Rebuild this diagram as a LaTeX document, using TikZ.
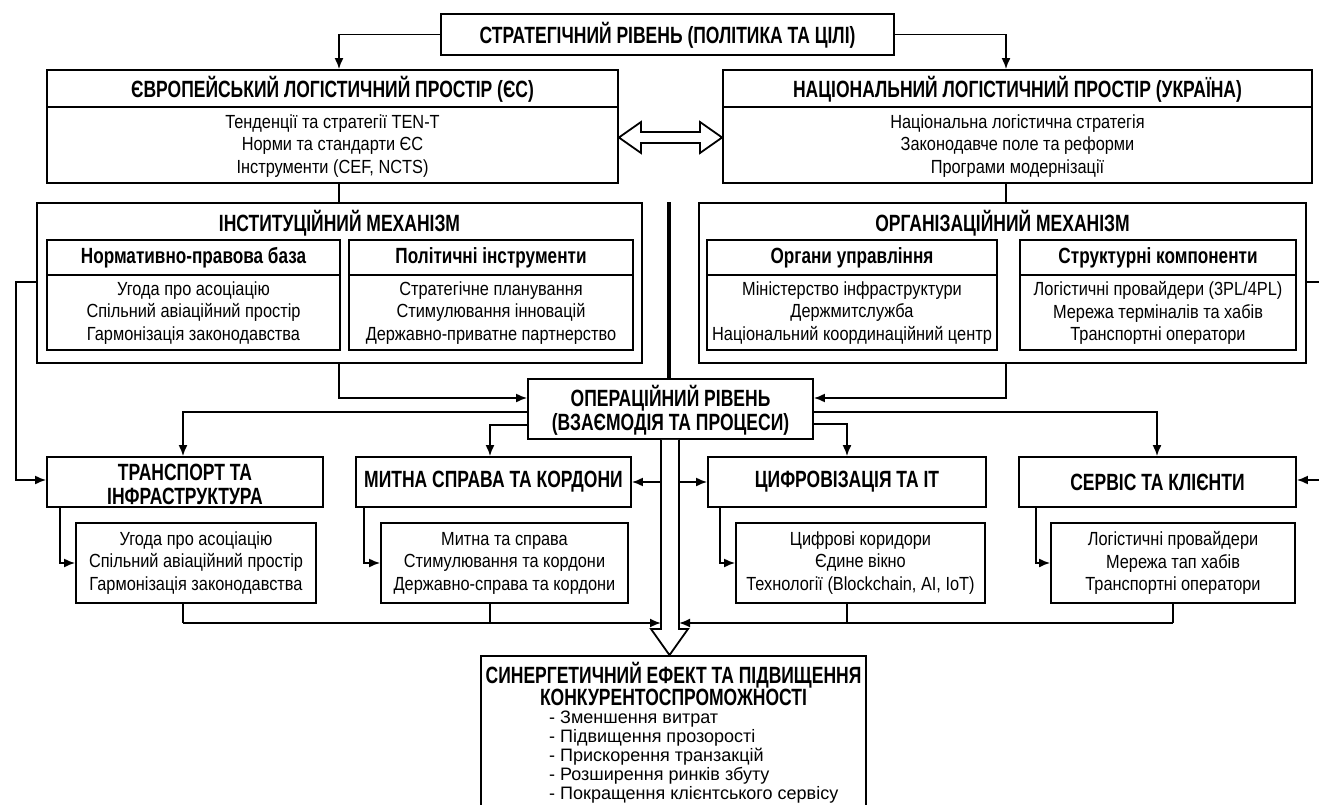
\documentclass[tikz,border=0pt]{standalone}
\usepackage{fontspec}
\setmainfont{Liberation Sans}
\newfontfamily\hdfont{Liberation Sans}[FakeStretch=0.745]
\newfontfamily\shfont{Liberation Sans}[FakeStretch=0.78]
\newfontfamily\bdfont{Liberation Sans}[FakeStretch=0.86]
\usetikzlibrary{arrows.meta,fit}
\begin{document}
\begin{tikzpicture}[x=1pt,y=-1pt,
  box/.style={draw, line width=1.8pt, inner sep=0pt},
  hd/.style={font=\hdfont\fontsize{23.5}{24}\selectfont\bfseries, align=center, inner sep=0pt},
  sh/.style={font=\shfont\fontsize{22}{23}\selectfont\bfseries, align=center, inner sep=0pt},
  bd/.style={font=\bdfont\fontsize{19}{22.5}\selectfont, align=center, inner sep=0pt},
  ls/.style={font=\fontsize{18}{19}\selectfont, align=left, inner sep=0pt, anchor=west},
  ln/.style={line width=1.8pt},
  arr/.style={line width=1.8pt, -{Latex[length=11pt,width=9pt]}},
]
\useasboundingbox[fill=white] (0,0) rectangle (1319,805);

% ---------- boxes ----------
\node[box, fit={(441,14) (894,55)}] (top) {};
\node[box, fit={(47,70) (618,183)}] (eu) {};
\node[box, fit={(723,70) (1312,183)}] (nat) {};
\node[box, fit={(37,203) (642,363)}] (inst) {};
\node[box, fit={(47,240) (340,350)}] (sa) {};
\node[box, fit={(349,240) (633,350)}] (sb) {};
\node[box, fit={(699,203) (1306,363)}] (org) {};
\node[box, fit={(707,240) (997,350)}] (sc) {};
\node[box, fit={(1020,240) (1296,350)}] (sd) {};
\node[box, fit={(528,379) (813,439)}] (op) {};
\node[box, fit={(47,457) (323,507)}] (tr) {};
\node[box, fit={(76,523) (316,603)}] (trs) {};
\node[box, fit={(356,457) (631,507)}] (mit) {};
\node[box, fit={(381,523) (628,603)}] (mits) {};
\node[box, fit={(708,457) (986,507)}] (cif) {};
\node[box, fit={(736,523) (985,603)}] (cifs) {};
\node[box, fit={(1019,457) (1296,507)}] (ser) {};
\node[box, fit={(1051,523) (1295,603)}] (sers) {};
\node[box, fit={(481,656) (866,815)}] (syn) {};

% dividers
\draw[ln] (eu.west |- 0,107) -- (eu.east |- 0,107);
\draw[ln] (nat.west |- 0,107) -- (nat.east |- 0,107);
\foreach \b in {sa,sb,sc,sd} \draw[ln] (\b.west |- 0,275) -- (\b.east |- 0,275);

% ---------- connectors ----------
\draw[arr] (top.west) -| (eu.north -| 339,0);
\draw[arr] (top.east) -| (nat.north -| 1006,0);
\draw[ln, fill=white] (eu.east |- 0,137.5) -- (641,122) -- (641,132) -- (700,132) -- (700,122)
   -- (nat.west |- 0,137.5) -- (700,153) -- (700,143) -- (641,143) -- (641,153) -- cycle;
\draw[ln] (eu.south -| 339,0) -- (inst.north -| 339,0);
\draw[ln] (nat.south -| 1006,0) -- (org.north -| 1006,0);
\draw[line width=4pt] (op.north -| 669,0) -- (669,202);
\draw[arr] (inst.south -| 339,0) |- (op.west |- 0,398);
\draw[arr] (org.south -| 1006,0) |- (op.east |- 0,398);
\draw[arr] (inst.west |- 0,282) -- (16,282) |- (tr.west |- 0,480);
\draw[arr] (org.east |- 0,282) -- (1322,282) |- (ser.east |- 0,480);
\draw[arr] (op.west |- 0,412) -| (tr.north -| 183,0);
\draw[arr] (op.west |- 0,425) -| (mit.north -| 490,0);
\draw[arr] (op.east |- 0,412) -| (ser.north -| 1157,0);
\draw[arr] (op.east |- 0,424) -| (cif.north -| 847,0);
\draw[ln, fill=white] (op.south -| 661,0) -- (661,629) -- (651,629) -- (syn.north -| 669.5,0)
   -- (688,629) -- (679,629) -- (op.south -| 679,0);
\draw[arr] (661,0 |- mit.east) -- (mit.east);
\draw[arr] (679,0 |- cif.west) -- (cif.west);
\draw[arr] (tr.south -| 60,0) |- (trs.west |- 0,563);
\draw[arr] (mit.south -| 364,0) |- (mits.west |- 0,563);
\draw[arr] (cif.south -| 720,0) |- (cifs.west |- 0,563);
\draw[arr] (ser.south -| 1036,0) |- (sers.west |- 0,563);
\draw[ln] (trs.south -| 183,0) -- (183,623);
\draw[ln] (mits.south -| 490,0) -- (490,623);
\draw[arr] (183,623) -- (661,623);
\draw[ln] (cifs.south -| 847,0) -- (847,623);
\draw[ln] (sers.south -| 1173,0) -- (1173,623);
\draw[arr] (1173,623) -- (679,623);

% ---------- texts ----------
\node[hd] (t-top) at (667.5,35) {СТРАТЕГІЧНИЙ РІВЕНЬ (ПОЛІТИКА ТА ЦІЛІ)};
\node[hd] (t-eu) at (332.5,89) {ЄВРОПЕЙСЬКИЙ ЛОГІСТИЧНИЙ ПРОСТІР (ЄС)};
\node[bd] (b-eu) at (332.5,146) {Тенденції та стратегії TEN-T\\Норми та стандарти ЄС\\Інструменти (CEF, NCTS)};
\node[hd] (t-nat) at (1017.5,89) {НАЦІОНАЛЬНИЙ ЛОГІСТИЧНИЙ ПРОСТІР (УКРАЇНА)};
\node[bd] (b-nat) at (1017.5,146) {Національна логістична стратегія\\Законодавче поле та реформи\\Програми модернізації};
\node[hd] (t-inst) at (339.5,223) {ІНСТИТУЦІЙНИЙ МЕХАНІЗМ};
\node[sh] (t-sa) at (193.5,258) {Нормативно-правова база};
\node[bd] (b-sa) at (193.5,313) {Угода про асоціацію\\Спільний авіаційний простір\\Гармонізація законодавства};
\node[sh] (t-sb) at (491,258) {Політичні інструменти};
\node[bd] (b-sb) at (491,313) {Стратегічне планування\\Стимулювання інновацій\\Державно-приватне партнерство};
\node[hd] (t-org) at (1002.5,223) {ОРГАНІЗАЦІЙНИЙ МЕХАНІЗМ};
\node[sh] (t-sc) at (852,258) {Органи управління};
\node[bd] (b-sc) at (852,313) {Міністерство інфраструктури\\Держмитслужба\\Національний координаційний центр};
\node[sh] (t-sd) at (1158,258) {Структурні компоненти};
\node[bd] (b-sd) at (1158,313) {Логістичні провайдери (3PL/4PL)\\Мережа терміналів та хабів\\Транспортні оператори};
\node[hd] (t-op) at (670.5,410) {ОПЕРАЦІЙНИЙ РІВЕНЬ\\(ВЗАЄМОДІЯ ТА ПРОЦЕСИ)};
\node[hd] (t-tr) at (185,484) {ТРАНСПОРТ ТА\\ІНФРАСТРУКТУРА};
\node[bd] (b-tr) at (196,563) {Угода про асоціацію\\Спільний авіаційний простір\\Гармонізація законодавства};
\node[hd] (t-mit) at (493.5,482) {МИТНА СПРАВА ТА КОРДОНИ};
\node[bd] (b-mit) at (504.5,563) {Митна та справа\\Стимулювання та кордони\\Державно-справа та кордони};
\node[hd] (t-cif) at (847,482) {ЦИФРОВІЗАЦІЯ ТА ІТ};
\node[bd] (b-cif) at (860.5,563) {Цифрові коридори\\Єдине вікно\\Технології (Blockchain, AI, IoT)};
\node[hd] (t-ser) at (1157.5,482) {СЕРВІС ТА КЛІЄНТИ};
\node[bd] (b-ser) at (1173,563) {Логістичні провайдери\\Мережа тап хабів\\Транспортні оператори};
\node[hd, font=\hdfont\fontsize{23.5}{20.5}\selectfont\bfseries] (t-syn) at (673.5,684) {СИНЕРГЕТИЧНИЙ ЕФЕКТ ТА ПІДВИЩЕННЯ\\КОНКУРЕНТОСПРОМОЖНОСТІ};
\node[ls] (b-syn) at (549,757) {- Зменшення витрат\\- Підвищення прозорості\\- Прискорення транзакцій\\- Розширення ринків збуту\\- Покращення клієнтського сервісу};
\end{tikzpicture}
\end{document}
